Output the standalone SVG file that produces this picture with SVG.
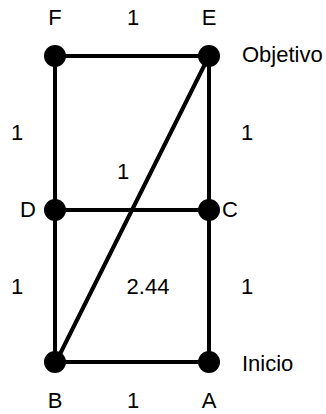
<svg xmlns="http://www.w3.org/2000/svg" width="326" height="414" viewBox="0 0 326 414">
<style>
.e{stroke:#000;stroke-width:4;fill:none}
.n{fill:#000}
text{font-family:"Liberation Sans",Arial,sans-serif;font-size:22px;fill:#000}
.m{text-anchor:middle}
</style>
<rect width="326" height="414" fill="#fff"/>
<g id="connectors">
<line class="e" x1="55" y1="56" x2="209" y2="56"/>
<line class="e" x1="55" y1="56" x2="55" y2="362"/>
<line class="e" x1="209" y1="56" x2="209" y2="362"/>
<line class="e" x1="55" y1="210" x2="209" y2="210"/>
<line class="e" x1="55" y1="362" x2="209" y2="362"/>
<line class="e" x1="209" y1="56" x2="57" y2="360"/>
</g>
<g id="labels">
<text class="m" x="133" y="25">1</text>
<text class="m" x="17" y="140">1</text>
<text class="m" x="247" y="140">1</text>
<text class="m" x="123" y="179">1</text>
<text class="m" x="17" y="294">1</text>
<text class="m" x="148" y="294">2.44</text>
<text class="m" x="247" y="294">1</text>
<text class="m" x="133" y="408">1</text>
</g>
<g id="F"><circle class="n" cx="55" cy="56" r="11"/><text class="m" x="55" y="25">F</text></g>
<g id="E"><circle class="n" cx="209" cy="56" r="11"/><text class="m" x="209" y="25">E</text><text x="242" y="62">Objetivo</text></g>
<g id="D"><circle class="n" cx="55" cy="210" r="11"/><text x="20" y="217">D</text></g>
<g id="C"><circle class="n" cx="209" cy="210" r="11"/><text x="222" y="217">C</text></g>
<g id="B"><circle class="n" cx="55" cy="362" r="11"/><text class="m" x="55" y="408">B</text></g>
<g id="A"><circle class="n" cx="209" cy="362" r="11"/><text class="m" x="209" y="408">A</text><text x="242" y="371">Inicio</text></g>
</svg>
